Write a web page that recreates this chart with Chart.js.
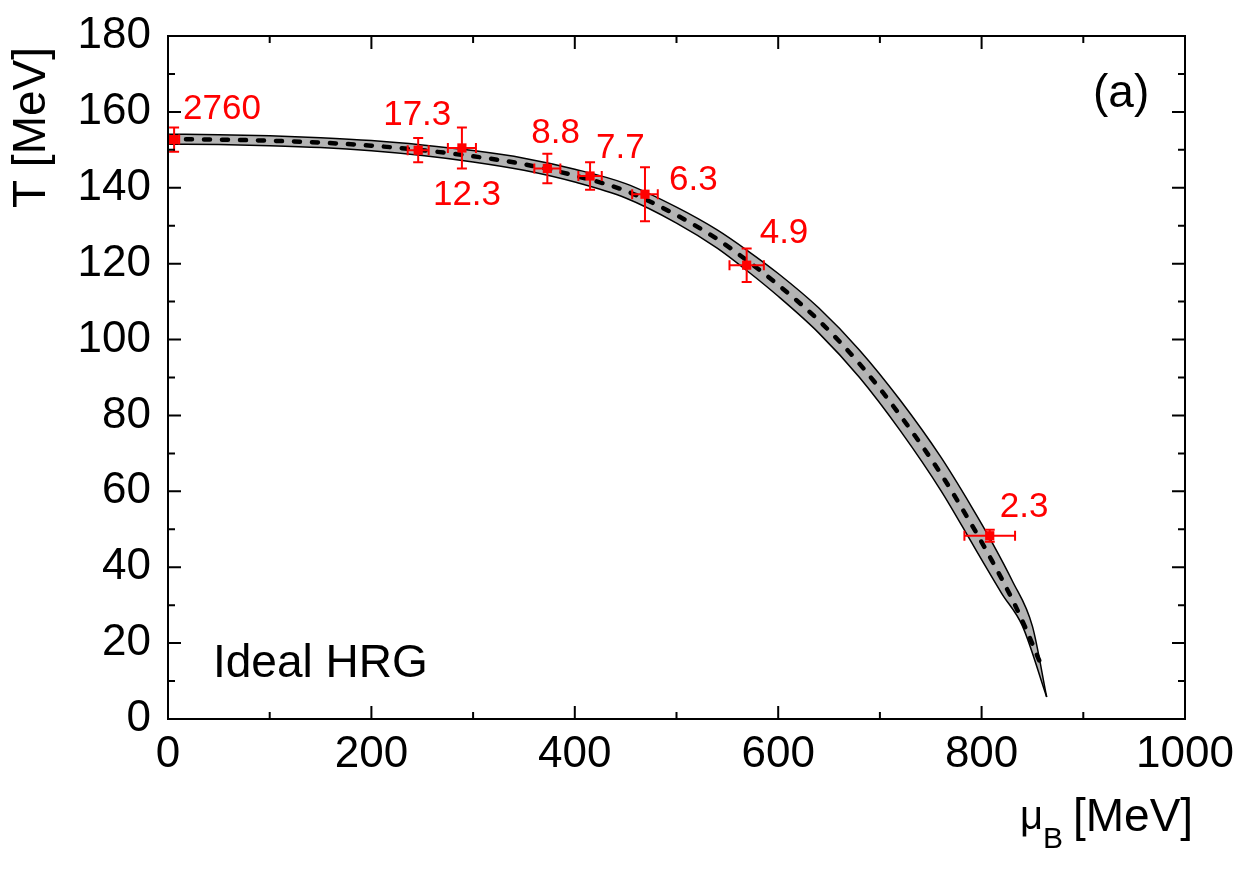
<!DOCTYPE html>
<html>
<head>
<meta charset="utf-8">
<script src="https://cdn.jsdelivr.net/npm/chart.js@4.4.0/dist/chart.umd.min.js"></script>
<style>
  html, body { margin: 0; padding: 0; background: #fff; }
  #wrap { width: 1242px; height: 878px; }
</style>
</head>
<body>
<div id="wrap"><canvas id="chart" width="1242" height="878"></canvas></div>
<script>
// --- Data (mu_B and T in MeV) ---
const pointLabels = ['2760', '17.3', '12.3', '8.8', '7.7', '6.3', '4.9', '2.3'];
const pointMu = [6, 246, 289, 373, 415, 469, 569, 808];
const pointT = [152.7, 149.9, 150.5, 145.1, 143.1, 138.3, 119.6, 48.3];
const pointMuErr = [5, 10.3, 13.8, 12.8, 11.5, 12.6, 16.9, 24.9];
const pointTErr = [3.2, 3.2, 5.4, 3.9, 3.6, 7.1, 4.4, 1.6];

// band (outer / upper-right edge)
const bandOuterMu = [0, 50, 100, 150, 200, 250, 300, 350, 400, 450, 500, 540, 570, 600, 640, 680, 720, 760, 790, 810, 830, 850, 864];
const bandOuterT = [154.1, 154.0, 153.7, 153.2, 152.45, 151.3, 149.8, 147.8, 144.9, 141.1, 134.9, 128.9, 123.4, 117.4, 108.3, 97.2, 84.0, 69.0, 56.0, 46.7, 36.5, 24.4, 5.8];
// band (inner / lower-left edge)
const bandInnerMu = [0, 50, 100, 150, 200, 250, 300, 350, 400, 450, 500, 540, 570, 600, 640, 680, 720, 760, 790, 800, 820, 840, 864];
const bandInnerT = [151.5, 151.4, 151.1, 150.6, 149.75, 148.5, 146.8, 144.6, 141.5, 137.3, 130.7, 124.1, 118.0, 111.4, 101.7, 90.0, 76.0, 60.2, 46.6, 42.0, 33.0, 24.6, 5.8];
// dashed central curve
const centerMu = [0, 50, 100, 150, 200, 250, 300, 350, 400, 450, 500, 540, 570, 600, 640, 680, 720, 760, 790, 810, 830, 845, 857];
const centerT = [152.8, 152.7, 152.4, 151.9, 151.1, 149.9, 148.3, 146.2, 143.2, 139.2, 132.8, 126.5, 120.7, 114.4, 105.0, 93.6, 80.0, 64.6, 51.3, 41.8, 31.6, 22.9, 15.2];

const xTicks = [0, 200, 400, 600, 800, 1000];
const yTicks = [0, 20, 40, 60, 80, 100, 120, 140, 160, 180];

const FONT = "'Liberation Sans', Arial, Helvetica, sans-serif";
const RED = '#ff0000';

function toXY(xs, ys) {
    return xs.map((x, i) => ({ x: x, y: ys[i] }));
}

// --- Barres d'erreur ---
const errorBars = {
    id: 'errorBars',
    afterDatasetsDraw(chart) {
        const c = chart.ctx, xs = chart.scales.x, ys = chart.scales.y;
        c.save();
        c.strokeStyle = RED;
        c.lineWidth = 2;
        const cap = 5;
        pointMu.forEach((m, i) => {
            const px = xs.getPixelForValue(m), py = ys.getPixelForValue(pointT[i]);
            const x0 = xs.getPixelForValue(m - pointMuErr[i]), x1 = xs.getPixelForValue(m + pointMuErr[i]);
            const y0 = ys.getPixelForValue(pointT[i] - pointTErr[i]), y1 = ys.getPixelForValue(pointT[i] + pointTErr[i]);
            c.beginPath();
            c.moveTo(x0, py); c.lineTo(x1, py);
            c.moveTo(x0, py - cap); c.lineTo(x0, py + cap);
            c.moveTo(x1, py - cap); c.lineTo(x1, py + cap);
            c.moveTo(px, y0); c.lineTo(px, y1);
            c.moveTo(px - cap, y0); c.lineTo(px + cap, y0);
            c.moveTo(px - cap, y1); c.lineTo(px + cap, y1);
            c.stroke();
        });
        c.restore();
    }
};

// decalages des etiquettes rouges (px, depuis le point)
const labelOffsets = [[9, -21], [-35, -25], [-29, 57], [-16, -25], [6, -18], [24, -4], [13, -22], [10, -19]];

// --- Cadre, graduations internes et textes ---
const decorations = {
    id: 'decorations',
    afterDraw(chart) {
        const c = chart.ctx, a = chart.chartArea, xs = chart.scales.x, ys = chart.scales.y;
        c.save();
        c.strokeStyle = '#000';
        c.lineWidth = 2;
        c.strokeRect(a.left, a.top, a.right - a.left, a.bottom - a.top);
        c.beginPath();
        for (let v = 0; v <= 1000; v += 100) {
            const px = xs.getPixelForValue(v);
            const len = v % 200 === 0 ? 13 : 7;
            c.moveTo(px, a.bottom); c.lineTo(px, a.bottom - len);
            c.moveTo(px, a.top); c.lineTo(px, a.top + len);
        }
        for (let v = 0; v <= 180; v += 10) {
            const py = ys.getPixelForValue(v);
            const len = v % 20 === 0 ? 13 : 7;
            c.moveTo(a.left, py); c.lineTo(a.left + len, py);
            c.moveTo(a.right, py); c.lineTo(a.right - len, py);
        }
        c.stroke();

        // etiquettes des points
        c.fillStyle = RED;
        c.font = '35px ' + FONT;
        c.textAlign = 'left';
        c.textBaseline = 'alphabetic';
        pointLabels.forEach((t, i) => {
            const px = xs.getPixelForValue(pointMu[i]), py = ys.getPixelForValue(pointT[i]);
            c.fillText(t, px + labelOffsets[i][0], py + labelOffsets[i][1]);
        });

        c.fillStyle = '#000';
        c.font = '46px ' + FONT;
        c.fillText('Ideal HRG', 213, 677);
        c.fillText('(a)', 1093, 107);

        // titre axe x : mu_B [MeV]
        c.font = '40px ' + FONT;
        c.fillText('\u03bc', 1020, 829);
        c.font = '30px ' + FONT;
        c.fillText('B', 1043, 848);
        c.font = '46px ' + FONT;
        c.fillText('[MeV]', 1073, 831);

        // titre axe y
        c.translate(45, 47);
        c.rotate(-Math.PI / 2);
        c.textAlign = 'right';
        c.fillText('T [MeV]', 0, 0);
        c.restore();
    }
};

const ctx = document.getElementById('chart').getContext('2d');
new Chart(ctx, {
    type: 'line',
    data: {
        datasets: [
            { data: toXY(bandOuterMu, bandOuterT), borderColor: '#000', borderWidth: 1.5, backgroundColor: '#b4b4b4',
              fill: '+1', pointRadius: 0, cubicInterpolationMode: 'monotone', order: 3 },
            { data: toXY(bandInnerMu, bandInnerT), borderColor: '#000', borderWidth: 1.5,
              fill: false, pointRadius: 0, cubicInterpolationMode: 'monotone', order: 2 },
            { data: toXY(centerMu, centerT), borderColor: '#000', borderWidth: 4.5, borderDash: [6, 12], borderCapStyle: 'round',
              fill: false, pointRadius: 0, cubicInterpolationMode: 'monotone', order: 1 },
            { data: toXY(pointMu, pointT), showLine: false, pointStyle: 'rect', pointRadius: 6.5,
              pointBackgroundColor: RED, pointBorderColor: RED, pointBorderWidth: 0, order: 0 }
        ]
    },
    options: {
        responsive: false,
        animation: false,
        devicePixelRatio: 1,
        layout: { padding: { top: 36, right: 57, left: 0, bottom: 0 } },
        plugins: { legend: { display: false }, tooltip: { enabled: false } },
        scales: {
            x: {
                type: 'linear', min: 0, max: 1000,
                afterBuildTicks: s => { s.ticks = xTicks.map(v => ({ value: v })); },
                afterFit: s => { s.height = 159; s.paddingLeft = 0; s.paddingRight = 0; },
                ticks: { color: '#000', font: { family: FONT, size: 44 }, padding: 9, maxRotation: 0,
                         callback: v => String(v) },
                grid: { display: false, drawTicks: false },
                border: { display: false }
            },
            y: {
                type: 'linear', min: 0, max: 180,
                afterBuildTicks: s => { s.ticks = yTicks.map(v => ({ value: v })); },
                afterFit: s => { s.width = 168; s.paddingTop = 0; s.paddingBottom = 0; },
                ticks: { color: '#000', font: { family: FONT, size: 44 }, padding: 17,
                         callback: v => String(v) },
                grid: { display: false, drawTicks: false },
                border: { display: false }
            }
        }
    },
    plugins: [errorBars, decorations]
});
</script>
</body>
</html>
